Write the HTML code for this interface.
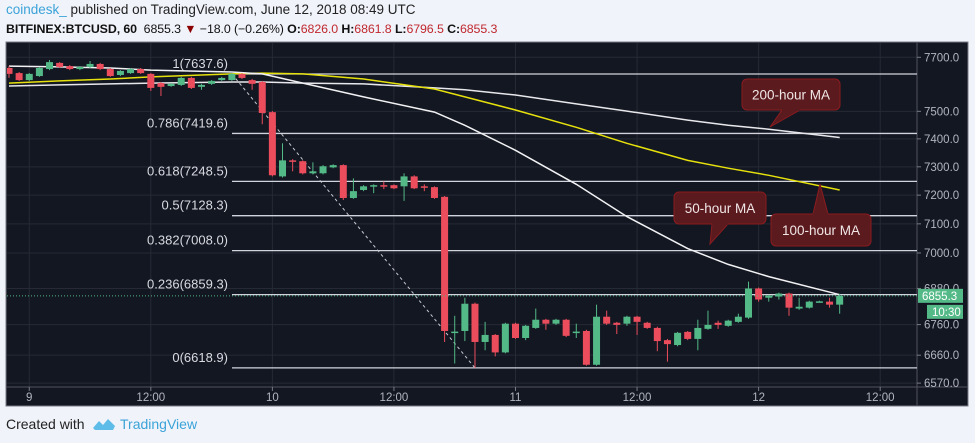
<!DOCTYPE html>
<html><head><meta charset="utf-8">
<style>
body{margin:0;background:#f0f3fa;width:975px;height:443px;overflow:hidden;font-family:"Liberation Sans",sans-serif}
#hdr1{position:absolute;left:6px;top:2px;font-size:13.5px;color:#222}
#hdr2{position:absolute;left:6px;top:22px;font-size:12.4px;letter-spacing:-0.1px;color:#111}
#foot{position:absolute;left:6px;top:416px;font-size:14px;color:#222}
svg{position:absolute;left:0;top:0}
</style></head><body>
<div id="hdr1"><span style="color:#3ba3d8">coindesk_</span> published on TradingView.com, June 12, 2018 08:49 UTC</div>
<div id="hdr2"><b>BITFINEX:BTCUSD, 60</b>&nbsp; 6855.3 <span style="color:#8b0000">▼</span> −18.0 (−0.26%) <b>O:</b><span style="color:#c0282e">6826.0</span> <b>H:</b><span style="color:#c0282e">6861.8</span> <b>L:</b><span style="color:#c0282e">6796.5</span> <b>C:</b><span style="color:#c0282e">6855.3</span></div>
<div id="foot">Created with &nbsp;<svg style="position:relative;vertical-align:middle;top:-1px" width="24" height="14" viewBox="0 0 24 14"><path d="M1 11 L7 4 L11 8 L16 2 L23 9 L21 13 L3 13 Z" fill="#5ebde8"/></svg> <span style="color:#3ba3d8">TradingView</span></div>
<svg id="chart" width="975" height="443"></svg>
<script>
const candleOpen=[7660,7641,7615,7630,7656,7679,7667,7656,7664,7675,7656,7634,7641,7656,7638,7604,7593,7597,7623,7590,7601,7615,7615,7638,7615,7608,7497,7266,7323,7320,7277,7277,7298,7306,7190,7218,7231,7235,7235,7231,7266,7231,7228,7194,6736,6739,6829,6703,6726,6669,6763,6716,6749,6776,6763,6776,6736,6739,6629,6786,6766,6763,6786,6766,6749,6709,6693,6736,6713,6746,6766,6756,6769,6783,6880,6849,6853,6863,6813,6816,6836,6836,6826];
const candleHigh=[7667,7645,7641,7664,7690,7682,7671,7667,7686,7679,7660,7652,7660,7660,7641,7608,7604,7627,7627,7601,7615,7627,7641,7641,7619,7612,7501,7384,7327,7323,7316,7306,7309,7309,7259,7235,7238,7248,7238,7277,7270,7238,7231,7197,6789,6849,6833,6769,6729,6766,6766,6759,6813,6779,6779,6779,6763,6743,6826,6806,6769,6789,6789,6769,6753,6713,6736,6739,6776,6806,6773,6776,6796,6903,6883,6859,6866,6866,6849,6839,6839,6849,6862];
const candleLow=[7623,7612,7612,7627,7652,7660,7652,7652,7660,7652,7627,7630,7638,7638,7575,7556,7590,7593,7582,7579,7597,7612,7612,7619,7579,7453,7266,7262,7284,7273,7273,7273,7295,7183,7187,7214,7207,7221,7221,7180,7221,7214,7187,6703,6633,6706,6619,6676,6656,6666,6713,6709,6746,6743,6759,6719,6716,6626,6626,6759,6729,6756,6726,6746,6673,6639,6689,6709,6676,6743,6746,6753,6766,6779,6836,6836,6843,6789,6809,6813,6833,6816,6796];
const candleClose=[7638,7615,7638,7660,7682,7664,7656,7664,7675,7656,7630,7649,7656,7641,7586,7590,7601,7623,7586,7597,7612,7623,7638,7623,7601,7494,7270,7323,7320,7277,7284,7302,7306,7190,7214,7231,7235,7234,7224,7266,7224,7229,7190,6739,6737,6829,6703,6726,6669,6763,6716,6756,6776,6763,6776,6723,6737,6629,6786,6763,6759,6786,6769,6749,6706,6696,6733,6713,6749,6759,6759,6773,6786,6880,6843,6856,6863,6816,6819,6836,6837,6826,6855];
const maIndex=[0,5,10,14,22,25,29,35,42,45,50,56,61,67,71,75,82];
const ma50=[7667,7664,7660,7652,7645,7638,7604,7553,7497,7449,7359,7238,7125,7015,6961,6920,6859];
const ma100=[7604,7612,7619,7627,7638,7641,7638,7619,7582,7553,7505,7442,7384,7323,7295,7270,7218];
const ma200=[7593,7597,7601,7604,7608,7608,7604,7601,7586,7579,7560,7527,7501,7468,7449,7435,7405];
const fibRatios=["1","0.786","0.618","0.5","0.382","0.236","0"];
const fibPrices=[7637.6,7419.6,7248.5,7128.3,7008.0,6859.3,6618.9];
const yTicks=[7700,7500,7400,7300,7200,7100,7000,6880,6760,6660,6570];
const xTickIdx=[2,14,26,38,50,62,74,86];
const xTickLabels=["9","12:00","10","12:00","11","12:00","12","12:00"];
const lastPrice=6855.3;

const NS="http://www.w3.org/2000/svg";
const svg=document.getElementById('chart');
const PL=7,PR=917,PT=43,PB=387;
function y(v){return 74+(Math.log(7637.6)-Math.log(v))*2053;}
function x(i){return 9+i*10.13;}
function mk(tag,attrs,parent){const e=document.createElementNS(NS,tag);for(const k in attrs)e.setAttribute(k,attrs[k]);(parent||svg).appendChild(e);return e;}

const frame=mk('rect',{x:6,y:42,width:962,height:364,fill:'#131722',stroke:'#787b86','stroke-width':1});


const clip=mk('clipPath',{id:'pc'});mk('rect',{x:PL,y:PT,width:PR-PL,height:PB-PT},clip);
const grid=mk('g',{stroke:'#262a35','stroke-width':1});


yTicks.forEach(t=>{mk('line',{x1:PL,x2:PR,y1:y(t),y2:y(t)},grid);});
xTickIdx.forEach(i=>{mk('line',{x1:x(i),x2:x(i),y1:PT,y2:PB},grid);});
mk('line',{x1:PR,x2:PR,y1:42,y2:406,stroke:'#50535e'});
mk('line',{x1:6,x2:968,y1:PB,y2:PB,stroke:'#50535e'});

const axY=mk('g',{fill:'#b2b5be','font-size':'11.5','font-family':'Liberation Sans, sans-serif'});


yTicks.forEach(t=>{mk('line',{x1:PR,x2:PR+4,y1:y(t),y2:y(t),stroke:'#787b86'},axY);const tx=mk('text',{x:924,y:y(t)+4},axY);tx.textContent=t.toFixed(1);});
const axX=mk('g',{fill:'#b2b5be','font-size':'11.5','font-family':'Liberation Sans, sans-serif','text-anchor':'middle'});


xTickIdx.forEach((i,k)=>{mk('line',{x1:x(i),x2:x(i),y1:PB,y2:PB+4,stroke:'#787b86'},axX);const tx=mk('text',{x:x(i),y:401},axX);tx.textContent=xTickLabels[k];});

const plot=mk('g',{'clip-path':'url(#pc)'});
const fib=mk('g',{},plot);


fibPrices.forEach((p,k)=>{
  mk('line',{x1:232,x2:PR,y1:y(p),y2:y(p),stroke:'#d1d4dc','stroke-width':1.3},fib);
  const t=mk('text',{x:228,y:y(p)-6,fill:'#d8dae0','font-size':'13','text-anchor':'end','font-family':'Liberation Sans, sans-serif'},fib);
  t.textContent=fibRatios[k]+'('+p.toFixed(1)+')';
});
const tl=mk('line',{x1:x(22),y1:y(fibPrices[0]),x2:x(46),y2:y(fibPrices[6]),stroke:'#c8cad0','stroke-dasharray':'3,3','stroke-width':1},plot);


function maLine(arr,color,name){
  const d=arr.map((v,k)=>(k?'L':'M')+x(maIndex[k]).toFixed(1)+' '+y(v).toFixed(1)).join(' ');
  const p=mk('path',{d:d,fill:'none',stroke:color,'stroke-width':1.5},plot);
  
  
}
maLine(ma200,'#e8e8ec','ma-200-line');
maLine(ma100,'#e6e10c','ma-100-line');
maLine(ma50,'#f2f2f4','ma-50-line');
candleOpen.forEach((o,i)=>{
  const c=candleClose[i],up=c>=o,col=up?'#53b987':'#eb4d5c';
  const g=mk('g',{},plot);
  
  
  mk('line',{x1:x(i),x2:x(i),y1:y(candleHigh[i]),y2:y(candleLow[i]),stroke:col,'stroke-width':1},g);
  const top=y(Math.max(o,c)),bot=y(Math.min(o,c));
  mk('rect',{x:x(i)-3.5,y:top,width:7,height:Math.max(1.5,bot-top),fill:col},g);
});
mk('line',{x1:PL,x2:PR,y1:y(lastPrice),y2:y(lastPrice),stroke:'#53b987','stroke-dasharray':'1,2'},plot);
function callout(name,bx,by,bw,bh,tip,base,label){
  const g=mk('g',{});
  
  
  mk('path',{d:'M'+base[0]+' '+base[1]+' L'+tip[0]+' '+tip[1]+' L'+base[2]+' '+base[3]+'Z',fill:'#5b1a1e',stroke:'#8a1c1f'},g);
  mk('rect',{x:bx,y:by,width:bw,height:bh,rx:5,fill:'#5b1a1e',stroke:'#8a1c1f'},g);
  mk('path',{d:'M'+base[0]+' '+base[1]+' L'+base[2]+' '+base[3],stroke:'#5b1a1e','stroke-width':2},g);
  const t=mk('text',{x:bx+bw/2,y:by+bh/2+5,fill:'#f0e6e6','font-size':'13.5','text-anchor':'middle','font-family':'Liberation Sans, sans-serif'},g);
  t.textContent=label;
}
callout('callout-200-hour-ma',742,79,98,31,[770,127],[782,110,800,110],'200-hour MA');
callout('callout-50-hour-ma',674,192,92,32,[710,244],[712,224,728,224],'50-hour MA');
callout('callout-100-hour-ma',771,214,100,32,[820,184],[813,214,828,214],'100-hour MA');
const pl=mk('g',{});


mk('rect',{x:918,y:y(lastPrice)-7,width:45,height:14,fill:'#53b987'},pl);
const pt=mk('text',{x:922,y:y(lastPrice)+4,fill:'#fff','font-size':'11.5','font-family':'Liberation Sans, sans-serif'},pl);pt.textContent=lastPrice.toFixed(1);
mk('rect',{x:927,y:y(lastPrice)+9,width:36,height:14,fill:'#53b987'},pl);
const ct=mk('text',{x:932,y:y(lastPrice)+20,fill:'#fff','font-size':'11.5','font-family':'Liberation Sans, sans-serif'},pl);ct.textContent='10:30';
</script>
</body></html>
